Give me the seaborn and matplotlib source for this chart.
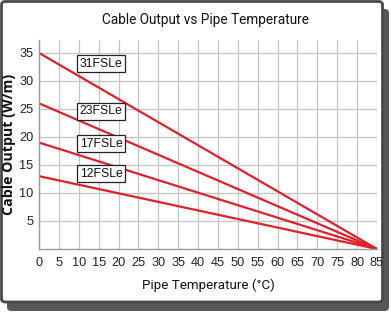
import matplotlib
matplotlib.use("Agg")
import matplotlib.pyplot as plt
import seaborn as sns
import pandas as pd
from matplotlib.patches import FancyBboxPatch

cables = ["31FSLe", "23FSLe", "17FSLe", "12FSLe"]
output_at_0 = [35, 26, 19, 13]
output_at_85 = [0, 0, 0, 0]
temps = [0, 85]
xticks = list(range(0, 90, 5))
yticks = [5, 10, 15, 20, 25, 30, 35]

rows = []
for c, a, b in zip(cables, output_at_0, output_at_85):
    rows.append({"cable": c, "temp": temps[0], "out": a})
    rows.append({"cable": c, "temp": temps[1], "out": b})
df = pd.DataFrame(rows)

sns.set_theme(style="white")
plt.rcParams['font.family'] = ['Liberation Sans', 'DejaVu Sans']

fig = plt.figure(figsize=(3.91, 3.16), dpi=100)
W, H = 391, 316

# frame with shadow
shadow = FancyBboxPatch((7 / W, 5 / H), 382 / W, 302 / H,
                        boxstyle="round,pad=0,rounding_size=0.012",
                        transform=fig.transFigure, facecolor="#3a3a3a",
                        edgecolor="none", alpha=0.85, zorder=-3)
fig.patches.append(shadow)
frame = FancyBboxPatch((1.5 / W, 14 / H), 381 / W, 300.5 / H,
                       boxstyle="round,pad=0,rounding_size=0.01",
                       transform=fig.transFigure, facecolor="white",
                       edgecolor="#4a4a4a", linewidth=2.0, zorder=-2)
fig.patches.append(frame)

ax = fig.add_axes([39 / W, (H - 249) / H, 338 / W, 209 / H])
ax.set_facecolor("none")

sns.lineplot(data=df, x="temp", y="out", units="cable", estimator=None,
             color="#e0202a", linewidth=1.6, ax=ax, legend=False)

ax.set_xlim(0, 85)
ax.set_ylim(0, 37.3)
ax.set_xticks(xticks)
ax.set_yticks(yticks)
ax.set_xticklabels([str(t) for t in xticks], fontsize=9.2, color="#222222")
ax.set_yticklabels([str(t) for t in yticks], fontsize=9.2, color="#222222")
ax.tick_params(axis="x", length=0, pad=6)
ax.tick_params(axis="y", length=0, pad=4)
ax.grid(True, color="#c4c4c4", linewidth=0.9)
ax.set_axisbelow(True)
for s in ["top", "right"]:
    ax.spines[s].set_visible(False)
for s in ["left", "bottom"]:
    ax.spines[s].set_color("#9a9a9a")
    ax.spines[s].set_linewidth(1.0)

ax.set_xlabel("Pipe Temperature (°C)", fontsize=9.6, family="Roboto",
              labelpad=7, color="#111111")
ax.set_ylabel("Cable Output (W/m)", fontsize=10.2, family="Open Sans",
              fontweight="bold", color="#111111")
ax.yaxis.set_label_coords(-23 / 338, 0.5)
fig.text(205 / W, 1 - 20 / H, "Cable Output vs Pipe Temperature",
         ha="center", va="center", fontsize=9.8, family="Roboto", color="#111111")

label_y = [33.1, 24.6, 18.75, 13.4]
for name, ly in zip(cables, label_y):
    ax.text(15.6, ly, name, ha="center", va="center", fontsize=8.8,
            color="#111111",
            bbox=dict(boxstyle="square,pad=0.2", facecolor="white",
                      edgecolor="#222222", linewidth=0.9))

fig.savefig("out.png", dpi=100)
